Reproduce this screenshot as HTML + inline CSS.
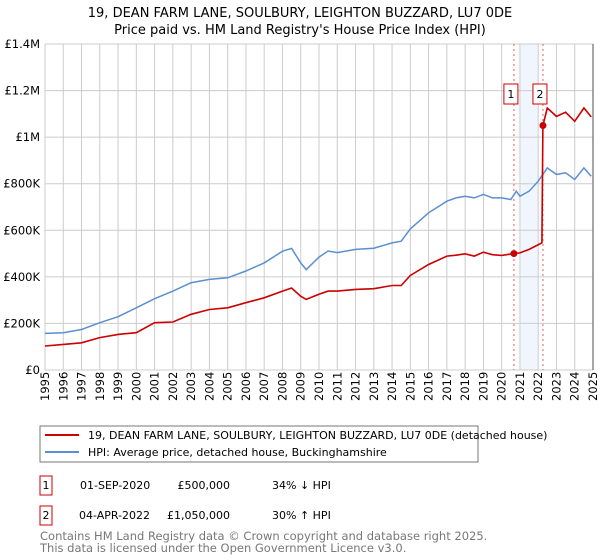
<!DOCTYPE html>
<html><head><meta charset="utf-8"><style>
body{margin:0;background:#fff;font-family:"Liberation Sans","DejaVu Sans",sans-serif;}
#wrap{position:relative;width:600px;height:560px;overflow:hidden;}
</style></head><body><div id="wrap">
<svg id="chart" width="600" height="560" xmlns="http://www.w3.org/2000/svg" font-family="DejaVu Sans, Liberation Sans, sans-serif">
<text x="300" y="17" text-anchor="middle" font-size="13">19, DEAN FARM LANE, SOULBURY, LEIGHTON BUZZARD, LU7 0DE</text>
<text x="300" y="34" text-anchor="middle" font-size="13">Price paid vs. HM Land Registry's House Price Index (HPI)</text>
<g id="grid"></g><g id="marks"></g><g id="axes"></g>
<rect x="40" y="426" width="438" height="36" fill="#fff" stroke="#777"/>
<line x1="45" y1="435" x2="79" y2="435" stroke="#cc0000" stroke-width="2"/>
<text x="88" y="439" font-size="11">19, DEAN FARM LANE, SOULBURY, LEIGHTON BUZZARD, LU7 0DE (detached house)</text>
<line x1="45" y1="452" x2="79" y2="452" stroke="#5b8fd1" stroke-width="2"/>
<text x="88" y="456" font-size="11">HPI: Average price, detached house, Buckinghamshire</text>
<g font-size="11">
<rect x="40" y="476" width="12" height="19" fill="#fff" stroke="#cc0000"/>
<text x="46" y="489" text-anchor="middle">1</text>
<text x="80" y="489">01-SEP-2020</text><text x="230" y="489" text-anchor="end">£500,000</text><text x="272" y="489">34% ↓ HPI</text>
<rect x="40" y="506" width="12" height="19" fill="#fff" stroke="#cc0000"/>
<text x="46" y="519" text-anchor="middle">2</text>
<text x="79" y="519">04-APR-2022</text><text x="230" y="519" text-anchor="end">£1,050,000</text><text x="272" y="519">30% ↑ HPI</text>
</g>
<text x="40" y="540" font-size="11.5" fill="#777">Contains HM Land Registry data © Crown copyright and database right 2025.</text>
<text x="40" y="552" font-size="11.5" fill="#777">This data is licensed under the Open Government Licence v3.0.</text>
</svg></div>
<script>
const yTicks=[0,200000,400000,600000,800000,1000000,1200000,1400000];
const yTickLabels=["£0","£200K","£400K","£600K","£800K","£1M","£1.2M","£1.4M"];
const xYears=[1995,1996,1997,1998,1999,2000,2001,2002,2003,2004,2005,2006,2007,2008,2009,2010,2011,2012,2013,2014,2015,2016,2017,2018,2019,2020,2021,2022,2023,2024,2025];
const hpiDates=[1995,1996,1997,1998,1999,2000,2001,2002,2003,2004,2005,2006,2007,2008,2008.5,2009,2009.3,2010,2010.5,2011,2012,2013,2014,2014.5,2015,2016,2017,2017.5,2018,2018.5,2019,2019.5,2020,2020.5,2020.8,2021,2021.5,2022,2022.5,2023,2023.5,2024,2024.5,2024.9];
const hpiValues=[157,160,174,203,229,267,306,339,375,389,396,425,460,510,522,460,431,485,511,504,518,523,546,553,606,675,725,739,746,739,754,739,739,732,768,746,768,811,868,840,847,818,868,832];
const propDates=[1995,1996,1997,1998,1999,2000,2001,2002,2003,2004,2005,2006,2007,2008,2008.5,2009,2009.3,2010,2010.5,2011,2012,2013,2014,2014.5,2015,2016,2017,2017.5,2018,2018.5,2019,2019.5,2020,2020.67,2021,2021.5,2022.2,2022.26,2022.5,2023,2023.5,2024,2024.5,2024.9];
const propValues=[103,110,117,139,153,160,203,206,239,260,267,289,310,339,352,317,303,325,339,339,346,349,363,363,406,453,489,493,499,489,506,495,492,500,503,518,546,1050,1125,1089,1107,1068,1125,1087];
const saleDates=[2020.67,2022.26];
const saleValues=[500000,1050000];
const saleLabels=["1","2"];
const X0=45,X1=593,Y0=370,Y1=44;
const xs=t=>X0+(t-1995)/30*(X1-X0);
const ys=v=>Y0-v/1400000*(Y0-Y1);
const NS="http://www.w3.org/2000/svg";
function mk(tag,attrs,parent){const e=document.createElementNS(NS,tag);for(const k in attrs)e.setAttribute(k,attrs[k]);document.getElementById(parent).appendChild(e);return e;}
const g="grid";
const shade=mk("rect",{x:xs(2021),y:Y1,width:xs(2022)-xs(2021),height:Y0-Y1,fill:"#eef3fc",opacity:"0.8"},g);


xYears.forEach(yr=>{const l=mk("line",{x1:xs(yr),x2:xs(yr),y1:Y1,y2:Y0,stroke:"#cccccc"},g);


const t=mk("text",{x:0,y:0,transform:`translate(${xs(yr)+4},${Y0+31}) rotate(-90)`,"font-size":"11.5"},"axes");t.textContent=yr;

});
yTicks.forEach((v,i)=>{const l=mk("line",{x1:X0,x2:X1,y1:ys(v),y2:ys(v),stroke:"#cccccc"},g);


const t=mk("text",{x:X0-5,y:ys(v)+4,"text-anchor":"end","font-size":"11.5"},"axes");t.textContent=yTickLabels[i];

});
const rb=mk("line",{x1:X1,x2:X1,y1:Y1,y2:Y0,stroke:"#888","stroke-width":"1.5"},"axes");


saleDates.forEach((d,i)=>{const l=mk("line",{x1:xs(d),x2:xs(d),y1:Y1,y2:Y0,stroke:"#e06060","stroke-dasharray":"2,3"},g);

});
const path=(ds,vs)=>ds.map((d,i)=>(i?"L":"M")+xs(d).toFixed(1)+","+ys(vs[i]*1000).toFixed(1)).join("");
const hl=mk("path",{d:path(hpiDates,hpiValues),fill:"none",stroke:"#5b8fd1","stroke-width":"1.5"},"marks");


const pl=mk("path",{d:path(propDates,propValues),fill:"none",stroke:"#cc0000","stroke-width":"1.6"},"marks");


saleDates.forEach((d,i)=>{const c=mk("circle",{cx:xs(d),cy:ys(saleValues[i]),r:3.5,fill:"#cc0000"},"marks");


const r=mk("rect",{x:xs(d)-10,y:84,width:14,height:20,fill:"#fff",stroke:"#cc0000"},"marks");


const t=mk("text",{x:xs(d)-3,y:98,"text-anchor":"middle","font-size":"11"},"marks");t.textContent=saleLabels[i];

});
</script></body></html>
